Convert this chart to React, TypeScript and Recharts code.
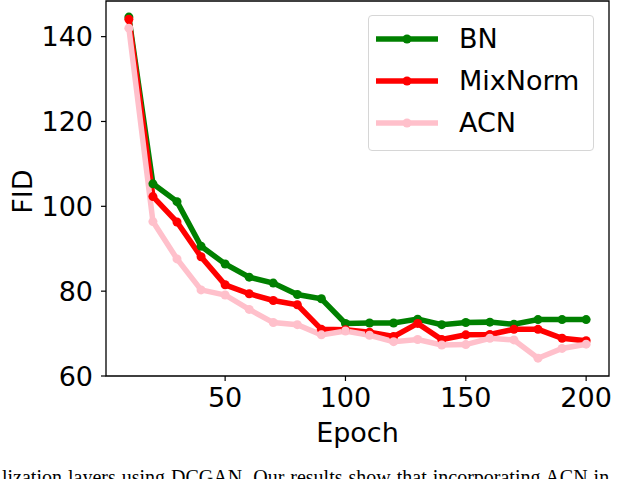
import { LineChart, Line, XAxis, YAxis, ReferenceArea, Label } from "recharts";

const epochs = [10, 20, 30, 40, 50, 60, 70, 80, 90, 100, 110, 120, 130, 140, 150, 160, 170, 180, 190, 200];
const bn = [144.6, 105.3, 101.1, 90.6, 86.4, 83.3, 81.9, 79.2, 78.2, 72.4, 72.5, 72.5, 73.4, 72.1, 72.6, 72.7, 72.2, 73.3, 73.3, 73.3];
const mixNorm = [144.1, 102.3, 96.3, 88.1, 81.5, 79.4, 77.8, 76.8, 71.0, 70.9, 70.3, 69.3, 72.4, 68.6, 69.7, 69.8, 71.0, 71.0, 68.9, 68.3];
const acn = [142.0, 96.4, 87.6, 80.3, 79.1, 75.7, 72.6, 72.1, 69.7, 70.6, 69.6, 68.1, 68.6, 67.3, 67.4, 68.9, 68.5, 64.2, 66.5, 67.5];

const xTicks = [50, 100, 150, 200];
const yTicks = [60, 80, 100, 120, 140];
const xDomain: [number, number] = [0.5, 209.5];
const yDomain: [number, number] = [60, 148.4];

const series = [
  { key: "bn", name: "BN", color: "#008000", values: bn },
  { key: "mixNorm", name: "MixNorm", color: "#ff0000", values: mixNorm },
  { key: "acn", name: "ACN", color: "#ffc0cb", values: acn },
];

const rows = epochs.map((epoch, i) => ({
  epoch,
  bn: bn[i],
  mixNorm: mixNorm[i],
  acn: acn[i],
}));

const FONT = "'DejaVu Sans', sans-serif";
const tickStyle = { fill: "#000", fontSize: 27, fontFamily: FONT };

function FidLabel(props: any) {
  const vb = props.viewBox || { x: 0, y: 0, height: 0 };
  const x = vb.x + 32;
  const y = vb.y + vb.height / 2 + 3;
  return (
    <text x={x} y={y} transform={`rotate(-90 ${x} ${y})`} textAnchor="middle" fontSize={27} fontFamily={FONT} fill="#000">
      FID
    </text>
  );
}

function EpochLabel(props: any) {
  const vb = props.viewBox || { x: 0, y: 0, width: 0 };
  return (
    <text x={vb.x + vb.width / 2} y={vb.y + 66} textAnchor="middle" fontSize={27} fontFamily={FONT} fill="#000">
      Epoch
    </text>
  );
}

function LegendBox() {
  return (
    <div
      style={{
        position: "absolute",
        left: 368,
        top: 15,
        width: 224,
        height: 134,
        border: "1px solid #d6d6d6",
        borderRadius: 4,
        background: "rgba(255,255,255,0.8)",
        fontFamily: FONT,
        fontSize: 27,
      }}
    >
      {series.map((s, i) => (
        <div key={s.key} style={{ position: "absolute", left: 0, top: 8 + i * 42, height: 30, width: 224 }}>
          <svg width={70} height={30} style={{ position: "absolute", left: 6, top: 0 }}>
            <line x1={1} y1={15} x2={63} y2={15} stroke={s.color} strokeWidth={5.5} />
            <circle cx={32} cy={15} r={4.5} fill={s.color} />
          </svg>
          <span style={{ position: "absolute", left: 90, top: -2, lineHeight: "34px", color: "#000" }}>{s.name}</span>
        </div>
      ))}
    </div>
  );
}

export default function App() {
  return (
    <div
      style={{
        position: "absolute",
        left: 0,
        top: 0,
        width: 640,
        height: 479,
        overflow: "hidden",
        background: "#fff",
      }}
    >
      <LineChart width={640} height={479} data={rows} margin={{ top: 1, right: 31, left: 0, bottom: 63 }}>
        <XAxis
          dataKey="epoch"
          type="number"
          domain={xDomain}
          ticks={xTicks}
          allowDataOverflow
          axisLine={false}
          tickLine={{ stroke: "#000", strokeWidth: 1.2 }}
          tickSize={5}
          tickMargin={7}
          tick={tickStyle}
          height={40}
          label={<Label content={EpochLabel} />}
        />
        <YAxis
          type="number"
          domain={yDomain}
          ticks={yTicks}
          allowDataOverflow
          axisLine={false}
          tickLine={{ stroke: "#000", strokeWidth: 1.2 }}
          tickSize={5}
          tickMargin={8}
          tick={tickStyle}
          width={106}
          label={<Label content={FidLabel} />}
        />
        <ReferenceArea
          x1={xDomain[0]}
          x2={xDomain[1]}
          y1={yDomain[0]}
          y2={yDomain[1]}
          fill="none"
          stroke="#000"
          strokeWidth={1.3}
          ifOverflow="visible"
        />
        {series.map((s) => (
          <Line
            key={s.key}
            type="linear"
            dataKey={s.key}
            name={s.name}
            stroke={s.color}
            strokeWidth={5.5}
            dot={{ r: 4.5, fill: s.color, stroke: s.color, strokeWidth: 0 }}
            activeDot={false}
            isAnimationActive={false}
          />
        ))}
      </LineChart>
      <LegendBox />
      <div
        style={{
          position: "absolute",
          left: 2,
          top: 466,
          width: 700,
          whiteSpace: "nowrap",
          fontFamily: "'Liberation Serif', serif",
          fontSize: 20,
          wordSpacing: 1,
          color: "#000",
        }}
      >
        lization layers using DCGAN. Our results show that incorporating ACN in
      </div>
    </div>
  );
}
